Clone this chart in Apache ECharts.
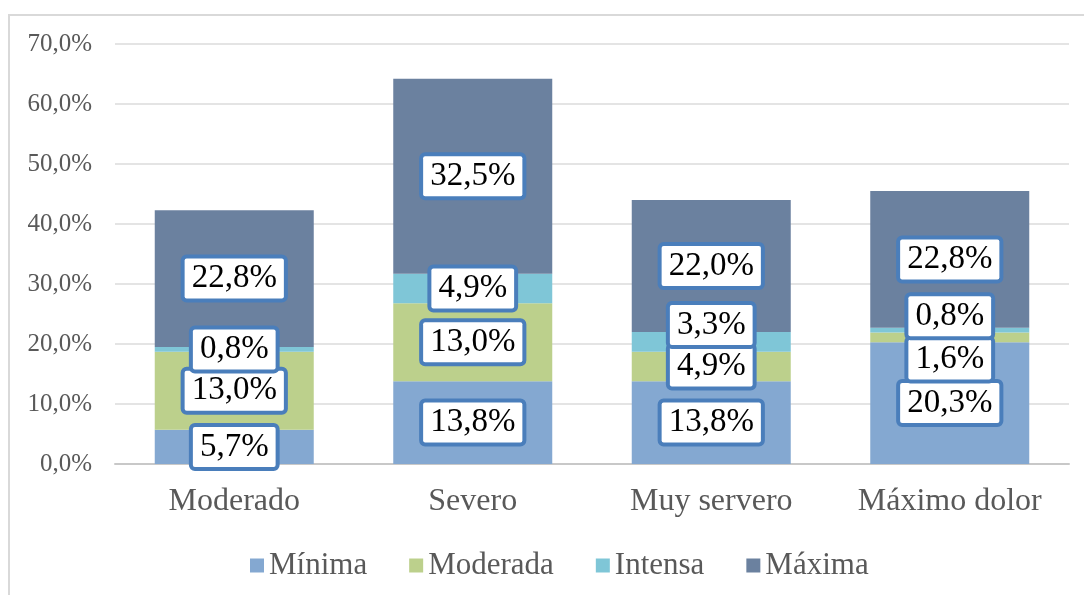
<!DOCTYPE html>
<html>
<head>
<meta charset="utf-8">
<script src="https://cdn.jsdelivr.net/npm/echarts@6/dist/echarts.min.js"></script>
<style>
  html, body { margin: 0; padding: 0; background: #fff; }
  #chart { width: 1084px; height: 595px; }
</style>
</head>
<body>
<div id="chart"></div>
<script>
// categorias y series (porcentajes)
const categories = ['Moderado', 'Severo', 'Muy servero', 'Máximo dolor'];
const seriesNames = ['Mínima', 'Moderada', 'Intensa', 'Máxima'];
const minima = [5.7, 13.8, 13.8, 20.3];
const moderada = [13.0, 13.0, 4.9, 1.6];
const intensa = [0.8, 4.9, 3.3, 0.8];
const maxima = [22.8, 32.5, 22.0, 22.8];
const yTicks = [0, 10, 20, 30, 40, 50, 60, 70];

const colors = ['#84a8d1', '#bcd08c', '#7fc6d7', '#6b819f'];
// desplazamiento vertical de etiquetas que se solapan (como en Excel)
const labelShift = [
  [0, 0, 0, 0],
  [0, 0, 0, 22],
  [0, 0, -17, -14],
  [0, 0, 0, 0],
];

const fmt = (v) => v.toFixed(1).replace('.', ',') + '%';
const serif = '"Liberation Serif", "Times New Roman", serif';

const chart = echarts.init(document.getElementById('chart'));

const allData = [minima, moderada, intensa, maxima];

const option = {
  backgroundColor: '#fff',
  animation: false,
  color: colors,
  graphic: [{
    type: 'rect',
    shape: { x: 9, y: 15, width: 1100, height: 620 },
    style: { fill: 'none', stroke: '#d9d9d9', lineWidth: 2 },
    silent: true,
  }],
  legend: {
    data: seriesNames,
    left: 245,
    top: 545,
    itemWidth: 14,
    itemHeight: 14,
    itemGap: 42,
    icon: 'rect',
    textStyle: {
      color: '#595959',
      fontFamily: serif,
      fontSize: 31,
    },
  },
  grid: {
    left: 115,
    right: 15,
    top: 44,
    bottom: 131,
  },
  xAxis: {
    type: 'category',
    data: categories,
    axisLine: { lineStyle: { color: '#c8c8c8', width: 2 } },
    axisTick: { show: false },
    axisLabel: {
      interval: 0,
      color: '#595959',
      fontFamily: serif,
      fontSize: 32,
      margin: 22,
    },
  },
  yAxis: {
    type: 'value',
    min: yTicks[0],
    max: yTicks[yTicks.length - 1],
    interval: 10,
    axisLine: { show: false },
    axisTick: { show: false },
    axisLabel: {
      color: '#595959',
      fontFamily: serif,
      fontSize: 25,
      margin: 23,
      formatter: fmt,
    },
    splitLine: { lineStyle: { color: '#e4e4e4', width: 2 } },
  },
  series: seriesNames.map((name, si) => ({
    name,
    type: 'bar',
    stack: 'total',
    barWidth: 159,
    data: allData[si],
    itemStyle: { color: colors[si] },
    label: {
      show: true,
      position: 'inside',
      formatter: (p) => fmt(p.value),
      color: '#000',
      fontFamily: serif,
      fontSize: 33,
      lineHeight: 34,
      backgroundColor: '#fff',
      borderColor: '#4a7ebb',
      borderWidth: 4,
      borderRadius: 2,
      padding: [4, 7, 2, 7],
    },
    labelLayout: (p) => ({ dy: labelShift[si][p.dataIndex], hideOverlap: false }),
  })),
};

chart.setOption(option);
</script>
</body>
</html>
